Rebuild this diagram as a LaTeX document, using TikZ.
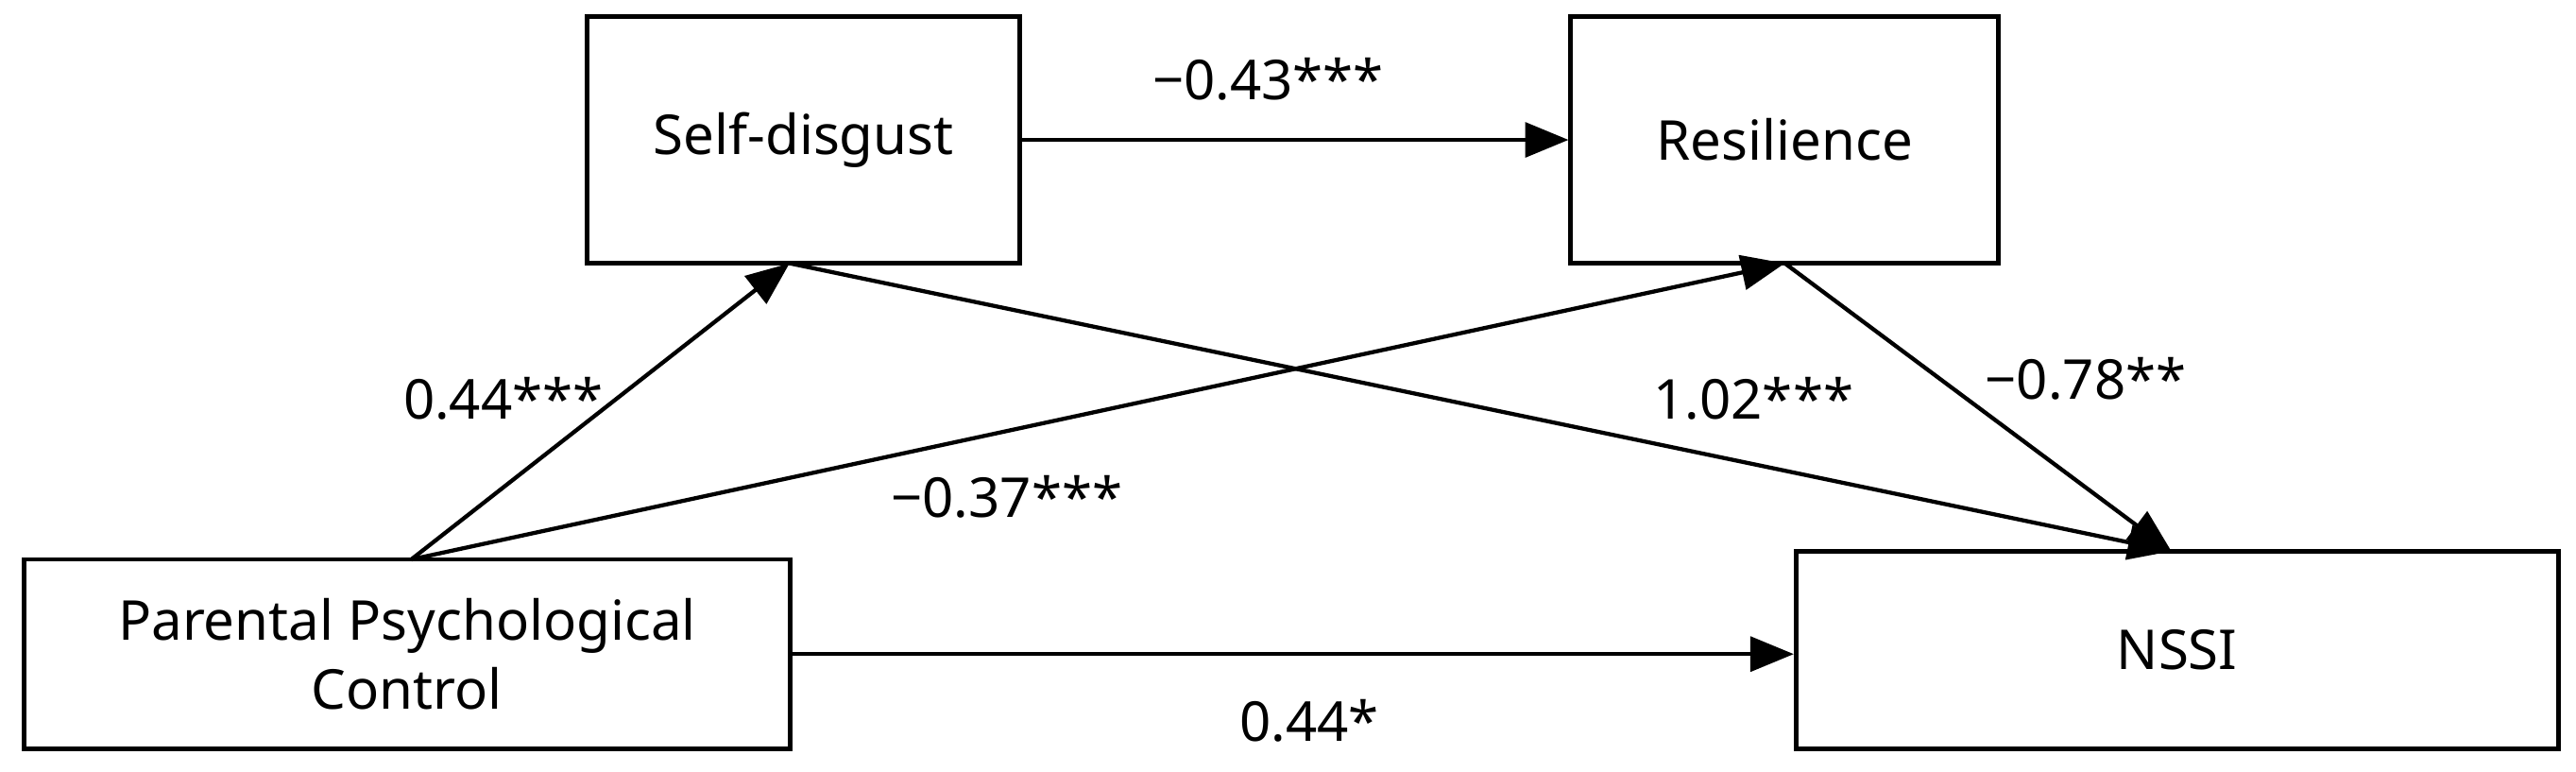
\documentclass[tikz,border=0pt]{standalone}
\usepackage{fontspec}
\setmainfont{Noto Sans}
\usetikzlibrary{arrows.meta}
\begin{document}
\begin{tikzpicture}[x=0.01cm,y=-0.01cm,
  box/.style={draw,line width=0.8pt,inner sep=0pt,align=center,font=\fontsize{9.5}{12}\selectfont},
  arr/.style={line width=0.7pt,-{Triangle[length=7.5pt,width=6pt]}},
  lab/.style={font=\fontsize{9.5}{12}\selectfont}]
\useasboundingbox (0,0) rectangle (1566,469);
\node[box,minimum width=2.63cm,minimum height=1.5cm] (sd) at (488.5,85) {Self-disgust};
\node[box,minimum width=2.6cm,minimum height=1.5cm] (re) at (1085,85) {Resilience};
\node[box,minimum width=4.65cm,minimum height=1.15cm] (pc) at (247.5,397.5) {Parental Psychological\\Control};
\node[box,minimum width=4.63cm,minimum height=1.2cm] (ns) at (1323.5,395) {NSSI};
\coordinate (pct) at (250,340);
\coordinate (sdb) at (480,160);
\coordinate (reb) at (1085,160);
\coordinate (nst) at (1320,335);
\draw[arr] (sd.east) -- (re.west);
\draw[arr] (pct) -- (sdb);
\draw[arr] (pct) -- (reb);
\draw[arr] (sdb) -- (nst);
\draw[arr] (reb) -- (nst);
\draw[arr] (pc.east) -- (pc.east -| ns.west);
\node[lab] at (771,48) {−0.43***};
\node[lab] at (306,242) {0.44***};
\node[lab] at (612,302) {−0.37***};
\node[lab] at (1066,242) {1.02***};
\node[lab] at (1268,230) {−0.78**};
\node[lab] at (796,438) {0.44*};
\end{tikzpicture}
\end{document}
